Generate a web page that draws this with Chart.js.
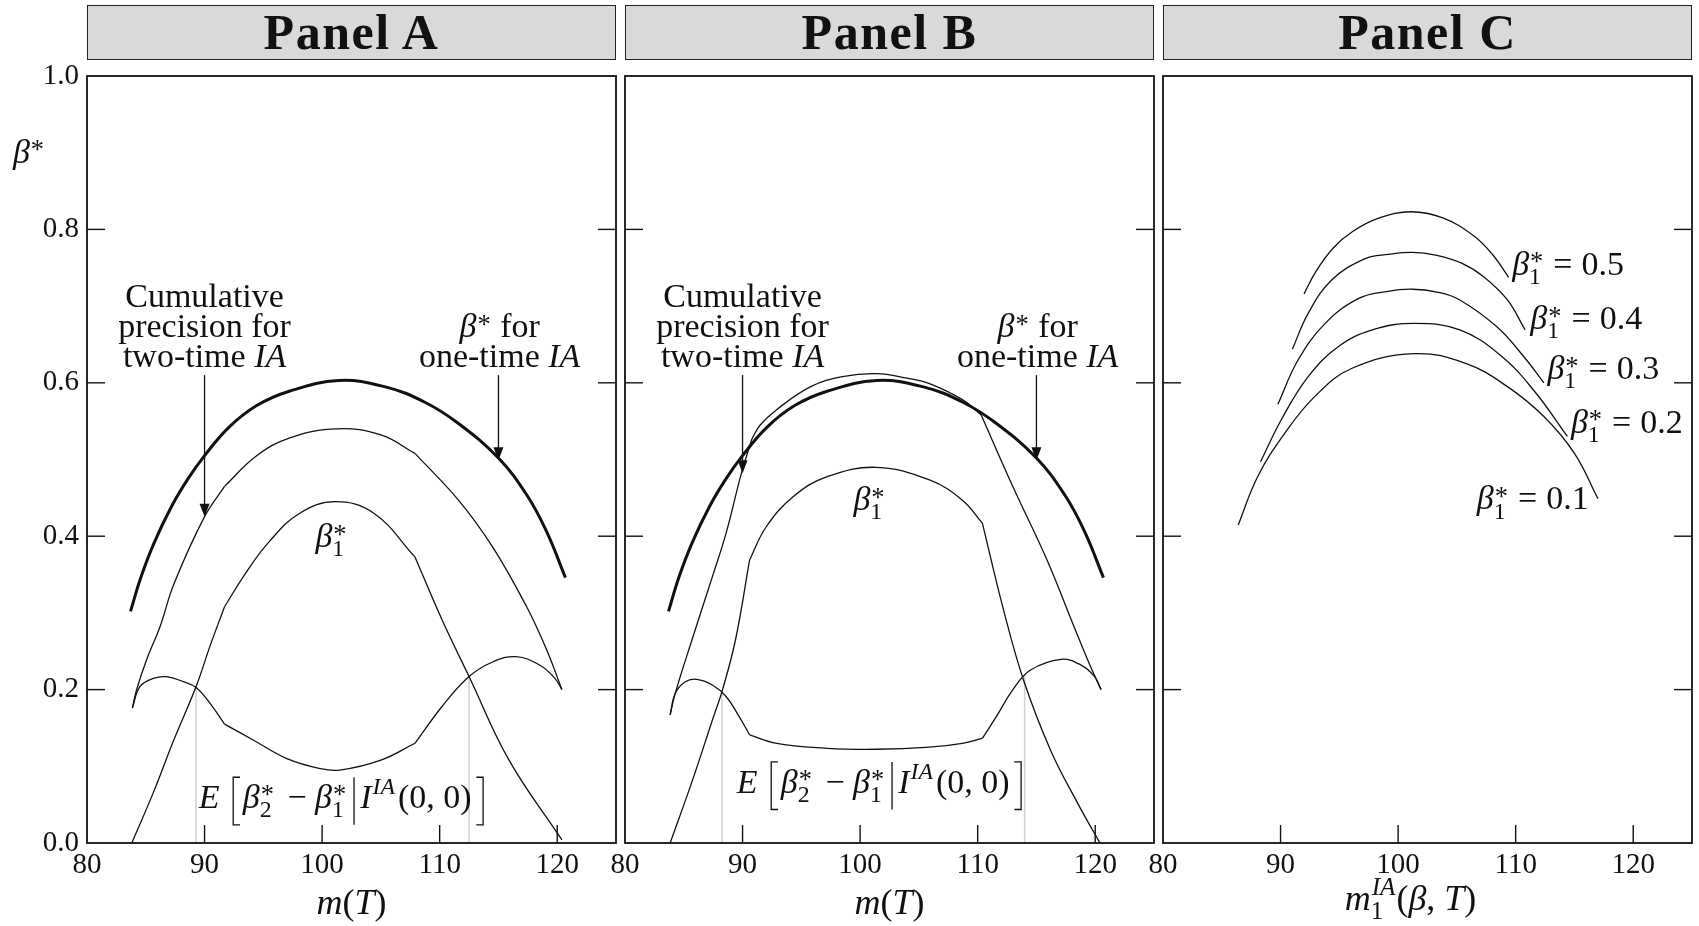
<!DOCTYPE html>
<html>
<head>
<meta charset="utf-8">
<script src="https://cdn.jsdelivr.net/npm/chart.js@4.4.1/dist/chart.umd.min.js"></script>
<style>
  body { margin: 0; background: #fff; width: 1699px; height: 926px; position: relative; overflow: hidden; }
  .head { position: absolute; top: 5px; width: 529px; height: 55px; box-sizing: border-box;
          background: #d9d9d9; border: 1.5px solid #222; text-align: center;
          font: bold 50px "Liberation Serif", serif; line-height: 52px; letter-spacing: 1.5px; color: #111; }
  .panel { position: absolute; top: 0; width: 625px; height: 926px; }
</style>
</head>
<body>
<div class="head" style="left:87px">Panel A</div>
<div class="head" style="left:625px">Panel B</div>
<div class="head" style="left:1163px">Panel C</div>
<div class="panel" style="left:0px"><canvas id="chartA" width="625" height="926"></canvas></div>
<div class="panel" style="left:538px"><canvas id="chartB" width="625" height="926"></canvas></div>
<div class="panel" style="left:1076px"><canvas id="chartC" width="625" height="926"></canvas></div>
<script>
// values: m(T) on x, beta* on y

// beta* for one-time IA (thick, same in panels A and B)
const oneTimeM    = [83.7, 84.6, 85.7, 87.2, 88.6, 90.0, 92.0, 94.4, 97.2, 101.4, 105.3, 108.7, 111.6, 115.0, 117.4, 119.1, 120.7];
const oneTimeBeta = [0.302, 0.347, 0.391, 0.439, 0.475, 0.505, 0.541, 0.570, 0.589, 0.603, 0.595, 0.575, 0.547, 0.502, 0.454, 0.406, 0.346];

// panel A
const cumAM    = [83.86, 84.22, 85.07, 86.21, 87.4, 90.0, 91.7, 94.35, 97.2, 101.3, 105.0, 107.9, 111.6, 114.5, 117.4, 119.1, 120.4];
const cumABeta = [0.176, 0.2, 0.239, 0.282, 0.338, 0.4255, 0.465, 0.504, 0.528, 0.540, 0.532, 0.508, 0.447, 0.386, 0.308, 0.252, 0.2];
const b1AM     = [83.81, 85.65, 87.35, 89.28, 90.47, 91.7, 93.5, 95.5, 98.1, 101.1, 104.4, 107.9, 110.2, 112.5, 115.9, 120.4];
const b1ABeta  = [0.0, 0.066, 0.133, 0.204, 0.257, 0.308, 0.352, 0.393, 0.430, 0.445, 0.430, 0.373, 0.291, 0.217, 0.108, 0.004];
const gapAM    = [83.86, 84.5, 85.65, 86.78, 88.2, 89.28, 90.47, 91.7, 94.17, 97.0, 99.84, 101.5, 105.0, 107.9, 110.2, 112.5, 114.5, 116.5, 118.5, 119.8, 120.4];
const gapABeta = [0.176, 0.204, 0.2147, 0.2168, 0.2103, 0.2027, 0.182, 0.155, 0.134, 0.110, 0.097, 0.095, 0.108, 0.130, 0.178, 0.217, 0.236, 0.243, 0.232, 0.2147, 0.2];
const kinksA   = [91.7, 107.9];
const guideAM   = [89.28, 112.5];
const guideATop = [0.204, 0.217];

// panel B
const cumBM    = [83.84, 84.27, 85.7, 87.43, 88.6, 89.9, 90.8, 91.5, 92.9, 95.8, 98.5, 101.4, 104.0, 105.9, 108.7, 110.3, 113.0, 115.9, 118.2, 119.6, 120.5];
const cumBBeta = [0.167, 0.195, 0.265, 0.347, 0.404, 0.482, 0.527, 0.545, 0.565, 0.595, 0.608, 0.612, 0.606, 0.599, 0.578, 0.558, 0.4645, 0.369, 0.282, 0.230, 0.2];
const cumBKinks = [90.8, 110.3];
const b1BM     = [83.84, 85.7, 87.43, 88.3, 89.4, 90.6, 92.0, 94.3, 97.2, 101.4, 105.9, 108.7, 110.4, 112.2, 113.9, 116.2, 118.5, 120.4];
const b1BBeta  = [0.0, 0.080, 0.160, 0.2, 0.265, 0.369, 0.412, 0.4515, 0.4776, 0.4898, 0.4733, 0.447, 0.417, 0.304, 0.2125, 0.121, 0.052, 0.0];
const gapBM    = [83.84, 84.27, 85.1, 86.1, 87.43, 88.6, 89.7, 90.6, 92.9, 97.2, 101.4, 105.9, 108.7, 110.4, 111.6, 113.0, 114.5, 117.1, 118.8, 119.95, 120.5];
const gapBBeta = [0.167, 0.195, 0.210, 0.2134, 0.206, 0.191, 0.165, 0.141, 0.130, 0.1235, 0.1222, 0.125, 0.130, 0.1365, 0.165, 0.2, 0.2255, 0.2395, 0.232, 0.217, 0.2];
const kinksB   = [90.6, 110.4];
const guideBM   = [88.25, 114.0];
const guideBTop = [0.2, 0.22];

// panel C: one curve per beta1*
const c5M = [92.0, 93.0, 94.5, 96.1, 98.4, 101.1, 103.8, 106.4, 108.1, 109.4];
const c5B = [0.716, 0.745, 0.776, 0.797, 0.815, 0.823, 0.815, 0.792, 0.766, 0.7375];
const c4M = [91.0, 92.35, 94.35, 97.2, 99.2, 101.2, 103.2, 105.4, 107.3, 109.3, 110.8];
const c4B = [0.6437, 0.6906, 0.734, 0.762, 0.7675, 0.770, 0.7665, 0.756, 0.738, 0.708, 0.669];
const c3M = [89.77, 91.5, 93.8, 96.65, 99.0, 101.2, 103.4, 105.25, 108.4, 110.7, 112.4];
const c3B = [0.572, 0.630, 0.6775, 0.710, 0.719, 0.722, 0.718, 0.708, 0.673, 0.634, 0.600];
const c2M = [88.3, 90.05, 92.35, 94.9, 97.8, 101.4, 105.25, 108.7, 111.6, 114.4];
const c2B = [0.497, 0.5515, 0.608, 0.647, 0.669, 0.6775, 0.669, 0.636, 0.589, 0.530];
const c1M = [86.4, 88.05, 90.35, 92.9, 96.08, 101.4, 105.8, 109.3, 112.4, 115.0, 117.0];
const c1B = [0.4146, 0.4776, 0.534, 0.582, 0.619, 0.638, 0.625, 0.595, 0.556, 0.508, 0.449];

const xTicks = [80, 90, 100, 110, 120];
const yTicks = [0, 0.2, 0.4, 0.6, 0.8, 1.0];

const SERIF = '"Liberation Serif", "Times New Roman", serif';
const INK = '#111';
const S = 34; // annotation text size

// splits a curve at its kinks so each piece is smooth on its own
function curve(xs, ys, width, kinks) {
  kinks = kinks || [];
  const pts = xs.map((x, i) => ({ x: x, y: ys[i] }));
  const pieces = [];
  let cur = [];
  pts.forEach(p => {
    cur.push(p);
    if (kinks.indexOf(p.x) >= 0) { pieces.push(cur); cur = [p]; }
  });
  if (cur.length > 1) pieces.push(cur);
  return pieces.map(d => ({
    data: d, showLine: true, borderColor: INK, borderWidth: width,
    pointRadius: 0, tension: 0.4, order: 0
  }));
}

function guides(xs, tops) {
  return xs.map((x, i) => ({
    data: [{ x: x, y: 0 }, { x: x, y: tops[i] }], showLine: true,
    borderColor: '#d4d4d4', borderWidth: 1.6, pointRadius: 0, order: 5
  }));
}

// ---------- rich text (italic math, sub/superscripts, tall delimiters) ----------
function setFont(ctx, size, it) { ctx.font = (it ? 'italic ' : '') + size + 'px ' + SERIF; }

function pieceWidth(ctx, p, s) {
  if (p.r !== undefined) { setFont(ctx, s, false); return ctx.measureText(p.r).width; }
  if (p.i !== undefined) { setFont(ctx, s, true); return ctx.measureText(p.i).width; }
  if (p.gap !== undefined) return p.gap;
  if (p.delim) return p.delim === '|' ? s * 0.32 : s * 0.42;
  let w = 0;
  if (p.sub) { setFont(ctx, s * 0.7, p.subI); w = Math.max(w, ctx.measureText(p.sub).width); }
  if (p.sup) { setFont(ctx, p.sup === '*' ? s * 0.78 : s * 0.7, p.supI); w = Math.max(w, ctx.measureText(p.sup).width); }
  return w + 2;
}

function drawRich(ctx, pieces, x, yMid, s, align) {
  const ws = pieces.map(p => pieceWidth(ctx, p, s));
  const total = ws.reduce((a, b) => a + b, 0);
  let cx = align === 'left' ? x : x - total / 2;
  const base = yMid + s * 0.32;
  ctx.save();
  ctx.textAlign = 'left';
  ctx.textBaseline = 'alphabetic';
  ctx.fillStyle = INK;
  ctx.strokeStyle = INK;
  pieces.forEach((p, k) => {
    if (p.r !== undefined) { setFont(ctx, s, false); ctx.fillText(p.r, cx, base); }
    else if (p.i !== undefined) { setFont(ctx, s, true); ctx.fillText(p.i, cx, base); }
    else if (p.delim) {
      const top = base - s * 0.9, bot = base + s * 0.5, lx = cx + s * 0.14, sw = s * 0.2;
      ctx.lineWidth = 1.3;
      ctx.beginPath();
      if (p.delim === '[') { ctx.moveTo(lx + sw, top); ctx.lineTo(lx, top); ctx.lineTo(lx, bot); ctx.lineTo(lx + sw, bot); }
      else if (p.delim === ']') { const rx = cx + ws[k] - s * 0.14; ctx.moveTo(rx - sw, top); ctx.lineTo(rx, top); ctx.lineTo(rx, bot); ctx.lineTo(rx - sw, bot); }
      else { ctx.moveTo(lx, top); ctx.lineTo(lx, bot); }
      ctx.stroke();
    } else if (p.gap === undefined) {
      const both = p.sub && p.sup;
      if (p.sup) {
        if (p.sup === '*') { setFont(ctx, s * 0.78, false); ctx.fillText('*', cx + 1, base - s * 0.13); }
        else { setFont(ctx, s * 0.7, p.supI); ctx.fillText(p.sup, cx + 1, base - s * 0.4); }
      }
      if (p.sub) { setFont(ctx, s * 0.7, p.subI); ctx.fillText(p.sub, cx, base + s * (both ? 0.27 : 0.22)); }
    }
    cx += ws[k];
  });
  ctx.restore();
}

const beta1 = [{ i: 'β' }, { sub: '1', sup: '*' }];
const expText = [{ i: 'E' }, { gap: 9 }, { delim: '[' }, { i: 'β' }, { sub: '2', sup: '*' }, { gap: 4 }, { r: ' − ' },
  { i: 'β' }, { sub: '1', sup: '*' }, { gap: 2 }, { delim: '|' }, { i: 'I' }, { sup: 'IA', supI: true }, { gap: 2 },
  { r: '(0, 0)' }, { gap: 2 }, { delim: ']' }];
const mT = [{ i: 'm' }, { r: '(' }, { i: 'T' }, { r: ')' }];
const mIA = [{ i: 'm' }, { sub: '1', sup: 'IA', supI: true }, { r: '(' }, { i: 'β' }, { r: ', ' }, { i: 'T' }, { r: ')' }];

// frame, inward ticks, annotations and arrows
function decorations(cfg) {
  return {
    id: 'decorations',
    afterDatasetsDraw(chart) {
      const ctx = chart.ctx, a = chart.chartArea;
      const xs = chart.scales.x, ys = chart.scales.y;
      ctx.save();
      ctx.strokeStyle = INK;
      ctx.lineWidth = 1.4;
      yTicks.forEach(v => {
        if (v <= 0 || v >= 1) return;
        const py = ys.getPixelForValue(v);
        ctx.beginPath(); ctx.moveTo(a.left, py); ctx.lineTo(a.left + 18, py); ctx.stroke();
        ctx.beginPath(); ctx.moveTo(a.right, py); ctx.lineTo(a.right - 18, py); ctx.stroke();
      });
      xTicks.forEach(v => {
        if (v <= 80) return;
        const px = xs.getPixelForValue(v);
        ctx.beginPath(); ctx.moveTo(px, a.bottom); ctx.lineTo(px, a.bottom - 18); ctx.stroke();
      });
      ctx.lineWidth = 1.8;
      ctx.strokeRect(a.left, a.top, a.right - a.left, a.bottom - a.top);

      (cfg.arrows || []).forEach(ar => {
        const px = xs.getPixelForValue(ar.x);
        const y0 = ys.getPixelForValue(ar.from), y1 = ys.getPixelForValue(ar.to);
        ctx.lineWidth = 1.3;
        ctx.beginPath(); ctx.moveTo(px, y0); ctx.lineTo(px, y1 - 10); ctx.stroke();
        ctx.fillStyle = INK;
        ctx.beginPath(); ctx.moveTo(px - 5, y1 - 13); ctx.lineTo(px + 5, y1 - 13); ctx.lineTo(px, y1); ctx.closePath(); ctx.fill();
      });
      (cfg.notes || []).forEach(n => {
        drawRich(ctx, n.text, xs.getPixelForValue(n.x), ys.getPixelForValue(n.y), n.size || S, n.align || 'center');
      });
      drawRich(ctx, cfg.xTitle, (a.left + a.right) / 2 + (cfg.xTitleShift || 0), cfg.xTitleY, 36, 'center');
      if (cfg.yTitle) drawRich(ctx, cfg.yTitle, 29, 152, S, 'center');
      ctx.restore();
    }
  };
}

function makeChart(id, datasets, showY, cfg) {
  return new Chart(document.getElementById(id), {
    type: 'scatter',
    data: { datasets: datasets },
    options: {
      responsive: false,
      animation: false,
      layout: { padding: { top: 76, right: 9, left: 0, bottom: 0 } },
      plugins: { legend: { display: false }, tooltip: { enabled: false } },
      scales: {
        x: {
          type: 'linear', min: 80, max: 125,
          grid: { display: false, drawTicks: false },
          border: { display: false },
          ticks: { stepSize: 10, includeBounds: false, padding: 5, color: INK, maxRotation: 0,
                   font: { family: SERIF, size: 29 } },
          afterFit: s => { s.height = 83; }
        },
        y: {
          type: 'linear', min: 0, max: 1,
          grid: { display: false, drawTicks: false },
          border: { display: false },
          ticks: { stepSize: 0.2, display: showY, padding: 8, color: INK,
                   font: { family: SERIF, size: 29 }, callback: v => v.toFixed(1) },
          afterFit: s => { s.width = 87; }
        }
      }
    },
    plugins: [decorations(cfg)]
  });
}

const textNotes = [
  { x: 90, y: 0.713, text: [{ r: 'Cumulative' }] },
  { x: 90, y: 0.674, text: [{ r: 'precision for' }] },
  { x: 90, y: 0.635, text: [{ r: 'two-time ' }, { i: 'IA' }] },
  { x: 115.1, y: 0.674, text: [{ i: 'β' }, { sup: '*' }, { r: ' for' }] },
  { x: 115.1, y: 0.635, text: [{ r: 'one-time ' }, { i: 'IA' }] }
];

makeChart('chartA',
  [].concat(guides(guideAM, guideATop),
            curve(oneTimeM, oneTimeBeta, 3), curve(cumAM, cumABeta, 1.3, kinksA),
            curve(b1AM, b1ABeta, 1.3, kinksA), curve(gapAM, gapABeta, 1.3, kinksA)),
  true,
  {
    arrows: [{ x: 90, from: 0.61, to: 0.4255 }, { x: 115, from: 0.61, to: 0.499 }],
    notes: textNotes.concat([{ x: 100.8, y: 0.40, text: beta1 }, { x: 101.8, y: 0.06, text: expText }]),
    xTitle: mT, xTitleY: 902, yTitle: [{ i: 'β' }, { sup: '*' }]
  });

makeChart('chartB',
  [].concat(guides(guideBM, guideBTop),
            curve(oneTimeM, oneTimeBeta, 3), curve(cumBM, cumBBeta, 1.3, cumBKinks),
            curve(b1BM, b1BBeta, 1.3, kinksB), curve(gapBM, gapBBeta, 1.3, kinksB)),
  false,
  {
    arrows: [{ x: 90, from: 0.61, to: 0.482 }, { x: 115, from: 0.61, to: 0.499 }],
    notes: textNotes.concat([{ x: 100.8, y: 0.448, text: beta1 }, { x: 101.8, y: 0.08, text: expText }]),
    xTitle: mT, xTitleY: 902
  });

const cLabel = v => beta1.concat([{ gap: 9 }, { r: '=' }, { gap: 9 }, { r: v }]);
makeChart('chartC',
  [].concat(curve(c5M, c5B, 1.3), curve(c4M, c4B, 1.3), curve(c3M, c3B, 1.3),
            curve(c2M, c2B, 1.3), curve(c1M, c1B, 1.3)),
  false,
  {
    notes: [
      { x: 109.7, y: 0.755, text: cLabel('0.5'), align: 'left' },
      { x: 111.25, y: 0.684, text: cLabel('0.4'), align: 'left' },
      { x: 112.7, y: 0.619, text: cLabel('0.3'), align: 'left' },
      { x: 114.7, y: 0.549, text: cLabel('0.2'), align: 'left' },
      { x: 106.7, y: 0.449, text: cLabel('0.1'), align: 'left' }
    ],
    xTitle: mIA, xTitleY: 898, xTitleShift: -17
  });
</script>
</body>
</html>
